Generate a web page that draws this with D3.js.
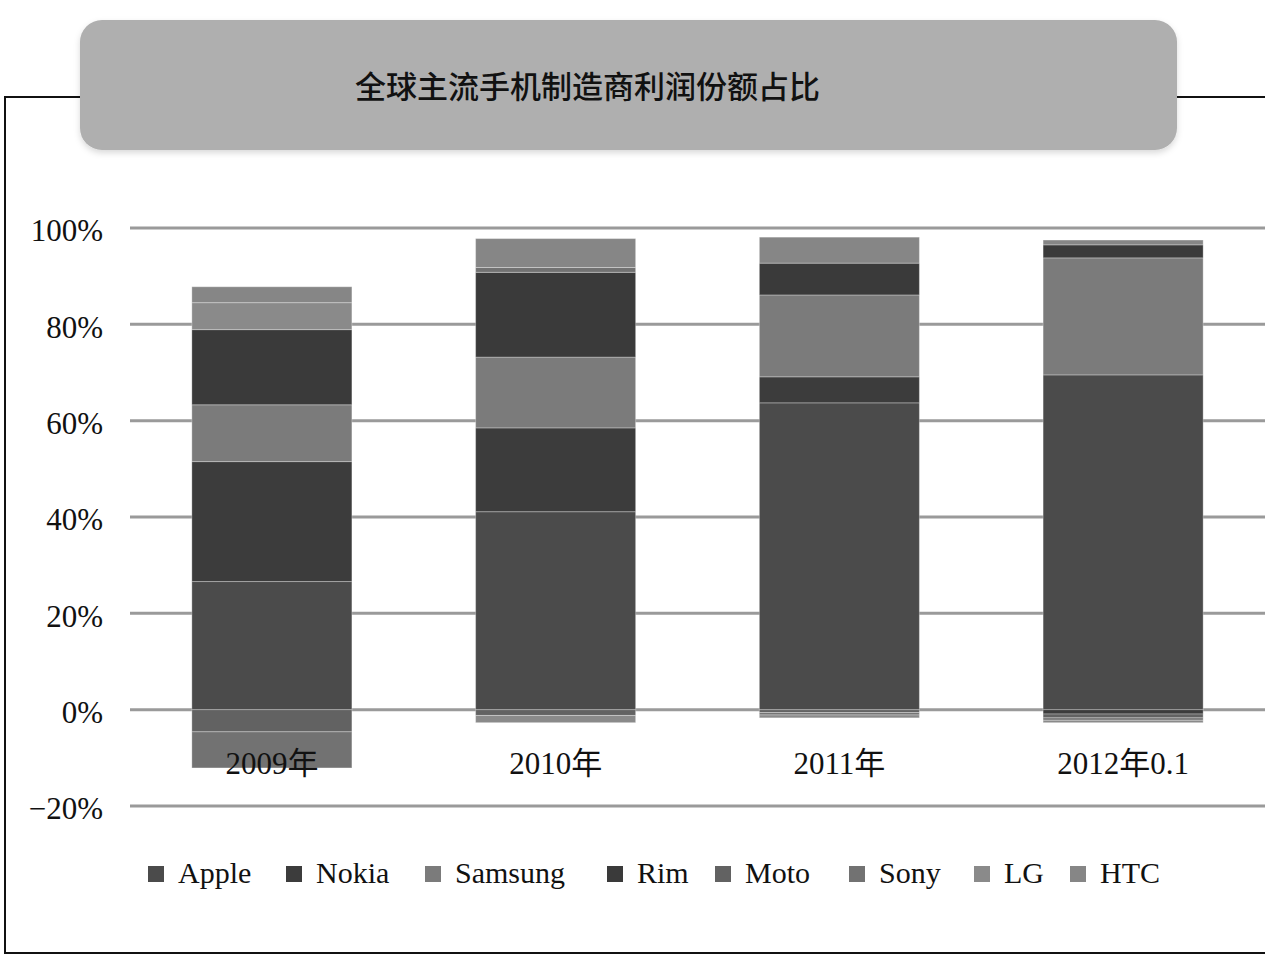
<!DOCTYPE html>
<html>
<head>
<meta charset="utf-8">
<script src="https://cdn.jsdelivr.net/npm/d3@7"></script>
<style>
  body { margin: 0; background: #fff; }
  svg text { font-family: "Liberation Serif", "DejaVu Serif", serif; fill: #111; }
</style>
</head>
<body>
<div id="chart"></div>
<script>
'use strict';

var title = '全球主流手机制造商利润份额占比';
var years = ['2009年', '2010年', '2011年', '2012年0.1'];
var brands = ['Apple', 'Nokia', 'Samsung', 'Rim', 'Moto', 'Sony', 'LG', 'HTC'];

// profit share in %, one array per brand, in year order
var apple   = [26.6, 41.1, 63.7, 69.5];
var nokia   = [24.9, 17.4, 5.4, -0.9];
var samsung = [11.8, 14.7, 17.0, 24.3];
var rim     = [15.6, 17.6, 6.6, 2.7];
var moto    = [-4.6, -1.2, -0.6, -0.8];
var sony    = [-7.5, 1.0, -0.5, -0.5];
var lg      = [5.6, -1.5, -0.6, -0.5];
var htc     = [3.3, 6.0, 5.4, 1.0];

var yTicks = [-20, 0, 20, 40, 60, 80, 100];

var colors = ['#4b4b4b', '#3c3c3c', '#7b7b7b', '#3a3a3a', '#626262', '#727272', '#8a8a8a', '#868686'];

var series = [apple, nokia, samsung, rim, moto, sony, lg, htc];
var rows = years.map(function (y, i) {
    var r = { year: y };
    brands.forEach(function (b, j) { r[b] = series[j][i]; });
    return r;
});

var W = 1265, H = 957;
var svg = d3.select('#chart').append('svg')
    .attr('width', W)
    .attr('height', H);

// outer frame
svg.append('rect')
    .attr('x', 5).attr('y', 97)
    .attr('width', W + 10).attr('height', 856)
    .attr('fill', 'none')
    .attr('stroke', '#111')
    .attr('stroke-width', 2);

// title box
var defs = svg.append('defs');
var f = defs.append('filter').attr('id', 'sh').attr('x', '-5%').attr('y', '-20%').attr('width', '110%').attr('height', '150%');
f.append('feDropShadow').attr('dx', 0).attr('dy', 3).attr('stdDeviation', 3).attr('flood-color', '#000').attr('flood-opacity', 0.15);

svg.append('rect')
    .attr('x', 80).attr('y', 20)
    .attr('width', 1097).attr('height', 130)
    .attr('rx', 22).attr('ry', 22)
    .attr('fill', '#afafaf')
    .attr('filter', 'url(#sh)');

svg.append('text')
    .attr('x', 355).attr('y', 98)
    .attr('textLength', 465)
    .style('font-family', '"Noto Sans CJK SC", sans-serif')
    .style('font-size', '31px')
    .style('font-weight', '500')
    .text(title);

var x = d3.scaleBand()
    .domain(years)
    .range([130, 1265])
    .paddingInner(0.436)
    .paddingOuter(0.218);

var y = d3.scaleLinear()
    .domain([-20, 100])
    .range([806, 228]);

// gridlines
svg.append('g').selectAll('line')
    .data(yTicks)
    .enter().append('line')
    .attr('x1', 130).attr('x2', W)
    .attr('y1', function (d) { return y(d); })
    .attr('y2', function (d) { return y(d); })
    .attr('stroke', '#9a9a9a')
    .attr('stroke-width', 3);

// y labels
var yAxis = d3.axisLeft(y).tickValues(yTicks)
    .tickSize(0).tickPadding(0)
    .tickFormat(function (d) { return (d < 0 ? '\u221220' : d) + '%'; });
var ya = svg.append('g').attr('transform', 'translate(103,3)').call(yAxis);
ya.select('.domain').remove();
ya.selectAll('text')
    .style('font-family', '"Liberation Serif", serif')
    .style('font-size', '31px')
    .attr('fill', '#111');

var stack = d3.stack().keys(brands).offset(d3.stackOffsetDiverging);
var stacked = stack(rows);

var groups = svg.append('g').selectAll('g')
    .data(stacked)
    .enter().append('g')
    .attr('fill', function (d, i) { return colors[i]; });

groups.selectAll('rect')
    .data(function (d) { return d; })
    .enter().append('rect')
    .attr('x', function (d) { return x(d.data.year); })
    .attr('width', x.bandwidth())
    .attr('y', function (d) { return y(Math.max(d[0], d[1])); })
    .attr('height', function (d) { return Math.abs(y(d[0]) - y(d[1])); })
    .attr('stroke', 'rgba(255,255,255,0.3)')
    .attr('stroke-width', 1);

// category labels
var xAxis = d3.axisBottom(x).tickSize(0).tickPadding(0);
var xa = svg.append('g').attr('transform', 'translate(0,752)').call(xAxis);
xa.select('.domain').remove();
xa.selectAll('text')
    .style('font-family', '"Liberation Serif", "Noto Sans CJK SC", serif')
    .style('font-size', '31px')
    .attr('fill', '#111');

// legend
var legendX = [148, 286, 425, 607, 715, 849, 974, 1070];
var lg_ = svg.append('g').selectAll('g')
    .data(brands)
    .enter().append('g')
    .attr('transform', function (d, i) { return 'translate(' + legendX[i] + ',866)'; });

lg_.append('rect')
    .attr('width', 16).attr('height', 16)
    .attr('fill', function (d, i) { return colors[i]; });

lg_.append('text')
    .attr('x', 30).attr('y', 17)
    .style('font-size', '30px')
    .text(function (d) { return d; });
</script>
</body>
</html>
